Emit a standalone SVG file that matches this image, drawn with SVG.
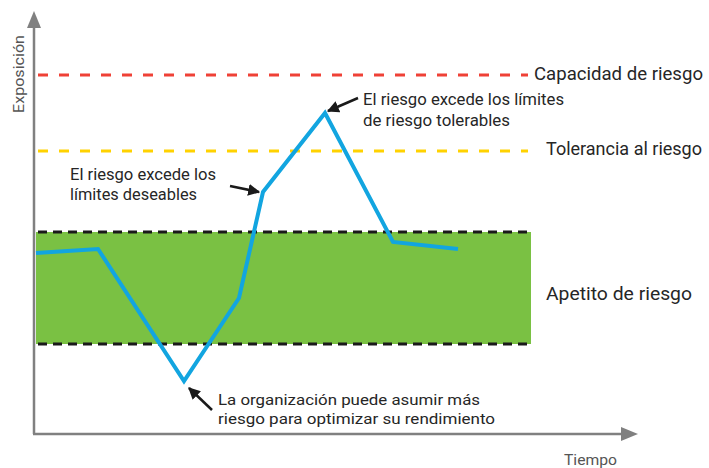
<svg xmlns="http://www.w3.org/2000/svg" width="709" height="468" viewBox="0 0 709 468">
<defs>
<style>
.t{font-family:Roboto,"Open Sans","Liberation Sans",sans-serif;fill:#262626}
.ax{font-family:Roboto,"Open Sans","Liberation Sans",sans-serif;fill:#555;font-size:15px}
.axis{stroke:#808080;stroke-width:2.5;fill:none}
.dash{stroke-width:3;fill:none}
.ptr{stroke:#1a1a1a;stroke-width:2.5;fill:none}
</style>
<marker id="ah" viewBox="0 0 10 10" refX="9" refY="5" markerWidth="4.8" markerHeight="4.8" orient="auto" markerUnits="strokeWidth">
<path d="M0,0 L10,5 L0,10 z" fill="#1a1a1a"/>
</marker>
</defs>
<rect width="709" height="468" fill="#fff"/>
<g id="appetite-band">
<rect x="36" y="232" width="495" height="112" fill="#7ac143"/>
<line class="dash" x1="38" y1="232" x2="531" y2="232" stroke="#1a1a1a" stroke-dasharray="9,6"/>
<line class="dash" x1="38" y1="344" x2="531" y2="344" stroke="#1a1a1a" stroke-dasharray="9,6"/>
</g>
<g id="capacity-line">
<line class="dash" x1="38" y1="75" x2="528" y2="75" stroke="#ef4136" stroke-dasharray="10,11"/>
</g>
<g id="tolerance-line">
<line class="dash" x1="38" y1="151" x2="528" y2="151" stroke="#ffd200" stroke-dasharray="10,11"/>
</g>
<g id="axes">
<line class="axis" x1="34" y1="26" x2="34" y2="434"/>
<path d="M34,11 L41,28 L27,28 z" fill="#808080"/>
<line class="axis" x1="33" y1="434" x2="622" y2="434"/>
<path d="M638,434 L621,427 L621,441 z" fill="#808080"/>
<text class="ax" transform="translate(24,113) rotate(-90)" textLength="78" lengthAdjust="spacingAndGlyphs">Exposición</text>
<text class="ax" x="564" y="465" textLength="53" lengthAdjust="spacingAndGlyphs">Tiempo</text>
</g>
<g id="risk-curve">
<polyline points="36,253 98,249 184,381 239,298 263,192 325,113 393,242 458,249" fill="none" stroke="#12a5e0" stroke-width="4" stroke-linejoin="miter"/>
</g>
<g id="connectors">
<line class="ptr" x1="358" y1="98" x2="328" y2="111" marker-end="url(#ah)"/>
<line class="ptr" x1="230" y1="186" x2="259" y2="192" marker-end="url(#ah)"/>
<line class="ptr" x1="212" y1="410" x2="189" y2="388" marker-end="url(#ah)"/>
</g>
<g id="label-capacity">
<text class="t" x="534" y="80" font-size="19" textLength="169" lengthAdjust="spacingAndGlyphs">Capacidad de riesgo</text>
</g>
<g id="label-tolerance">
<text class="t" x="546" y="155" font-size="18" textLength="156" lengthAdjust="spacingAndGlyphs">Tolerancia al riesgo</text>
</g>
<g id="label-appetite">
<text class="t" x="546" y="300" font-size="19" textLength="146" lengthAdjust="spacingAndGlyphs">Apetito de riesgo</text>
</g>
<g id="note-peak">
<text class="t" x="363" y="105" font-size="16" textLength="201" lengthAdjust="spacingAndGlyphs">El riesgo excede los límites</text>
<text class="t" x="363" y="126" font-size="16" textLength="147" lengthAdjust="spacingAndGlyphs">de riesgo tolerables</text>
</g>
<g id="note-desirable">
<text class="t" x="70" y="180" font-size="16" textLength="146" lengthAdjust="spacingAndGlyphs">El riesgo excede los</text>
<text class="t" x="70" y="200" font-size="16" textLength="127" lengthAdjust="spacingAndGlyphs">límites deseables</text>
</g>
<g id="note-low">
<text class="t" x="218" y="405" font-size="15.5" textLength="262" lengthAdjust="spacingAndGlyphs">La organización puede asumir más</text>
<text class="t" x="218" y="424" font-size="15.5" textLength="277" lengthAdjust="spacingAndGlyphs">riesgo para optimizar su rendimiento</text>
</g>
</svg>
